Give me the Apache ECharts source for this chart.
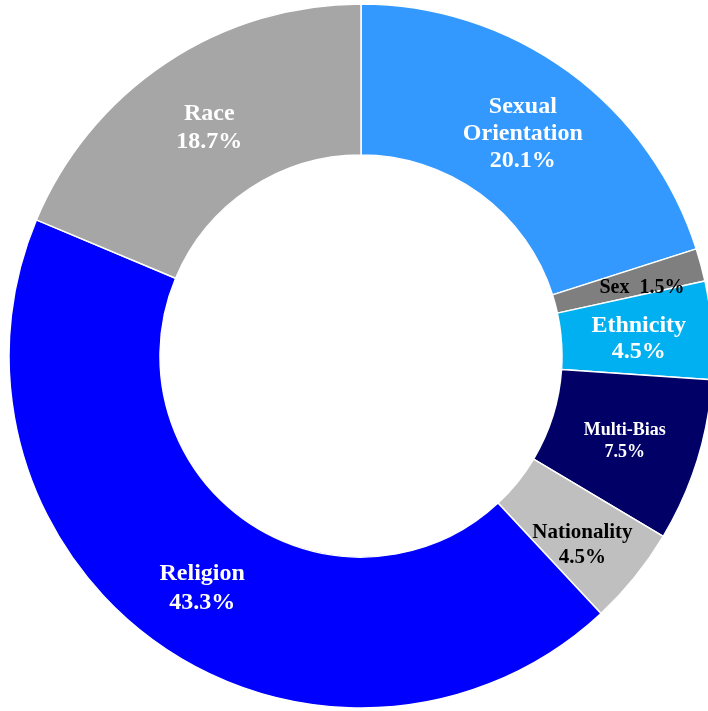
<!DOCTYPE html>
<html>
<head>
<meta charset="utf-8">
<script src="https://cdn.jsdelivr.net/npm/echarts@6/dist/echarts.min.js"></script>
<style>
  html, body { margin: 0; padding: 0; background: #fff; }
  #chart { width: 708px; height: 711px; }
</style>
</head>
<body>
<div id="chart"></div>
<script>
// bias categories, clockwise from 12 o'clock
const categories = ['Sexual Orientation', 'Sex', 'Ethnicity', 'Multi-Bias', 'Nationality', 'Religion', 'Race'];
const values = [20.1, 1.5, 4.5, 7.5, 4.5, 43.3, 18.7];

// look of each slice (same order)
const colors = ['#3399FF', '#7F7F7F', '#00B0F0', '#000066', '#BFBFBF', '#0000FF', '#A6A6A6'];
const labelColors = ['#fff', '#000', '#fff', '#fff', '#000', '#fff', '#fff'];
const labelSizes = [24, 20, 24, 18, 21, 24, 24];
const labelLines = [27, 24, 26, 22, 25, 29, 28];
const labelOffsets = [[-3, 4], [11, 4], [-1, 3], [-3, 2], [4, 13], [1, 3], [3, 5]];

function labelText(name, value) {
    if (name === 'Sexual Orientation') return 'Sexual\nOrientation\n' + value.toFixed(1) + '%';
    if (name === 'Sex') return 'Sex  ' + value.toFixed(1) + '%';
    return name + '\n' + value.toFixed(1) + '%';
}

const seriesData = categories.map((name, i) => ({
    name: name,
    value: values[i],
    itemStyle: { color: colors[i] },
    label: {
        color: labelColors[i],
        fontSize: labelSizes[i],
        lineHeight: labelLines[i],
        offset: labelOffsets[i]
    }
}));

const chart = echarts.init(document.getElementById('chart'), null, { renderer: 'canvas' });
chart.setOption({
    backgroundColor: '#ffffff',
    animation: false,
    series: [{
        type: 'pie',
        center: [361, 356],
        radius: [201, 352],
        startAngle: 90,
        clockwise: true,
        avoidLabelOverlap: false,
        itemStyle: { borderColor: '#ffffff', borderWidth: 1.5 },
        label: {
            show: true,
            position: 'inside',
            fontFamily: '"Liberation Serif", "Times New Roman", serif',
            fontWeight: 'bold',
            align: 'center',
            formatter: p => labelText(p.name, p.value)
        },
        labelLine: { show: false },
        emphasis: { disabled: true },
        data: seriesData
    }]
});
</script>
</body>
</html>
